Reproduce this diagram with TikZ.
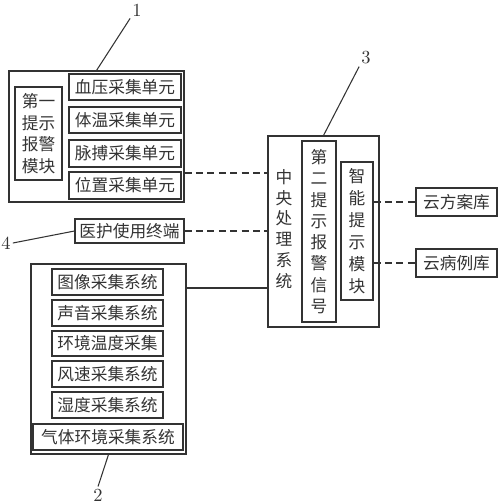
\documentclass[tikz,border=0pt]{standalone}
\usepackage{fontspec}
\usepackage{tikz}
\newfontfamily\cjk{Noto Sans CJK SC}
\tikzset{>=stealth}
\tikzset{
  box/.style={draw, rectangle, inner sep=0pt, align=center,
    font=\cjk\fontsize{9.5}{11.4}\selectfont},
  sz/.style 2 args={minimum width=#1*0.02cm, minimum height=#2*0.02cm},
  vskip/.style={font=\cjk\fontsize{9.5}{#1}\selectfont},
  tag/.style={inner sep=1pt, font=\fontsize{10.5}{12}\selectfont},
  link/.style={dash pattern=on 4pt off 2.5pt},
}

\begin{document}
\begin{tikzpicture}[x=0.02cm, y=-0.02cm, line width=0.6pt, color=black!80]
\useasboundingbox[fill=white] (0,0) rectangle (500,504);

% group 1
\node[box, sz={175}{131}] (grp1) at (96.5,136.5) {};
\node[box, sz={47}{93}, vskip=12.3pt] (alarm1) at (38.5,133.5) {第一\\提示\\报警\\模块};
\node[box, sz={112}{26}] (bp) at (125,87) {血压采集单元};
\node[box, sz={112}{26}] (temp) at (125,120) {体温采集单元};
\node[box, sz={112}{27}] (pulse) at (125,153.5) {脉搏采集单元};
\node[box, sz={112}{27}] (loc) at (125,185.5) {位置采集单元};

% terminal
\node[box, sz={109}{24}] (term) at (129.5,231) {医护使用终端};

% group 2
\node[box, sz={155}{190}] (grp2) at (108.5,359) {};
\node[box, sz={111}{26}] (img) at (107.5,282) {图像采集系统};
\node[box, sz={111}{26}] (snd) at (107.5,313) {声音采集系统};
\node[box, sz={111}{25}] (envt) at (107.5,343.5) {环境温度采集};
\node[box, sz={111}{26}] (wind) at (107.5,374) {风速采集系统};
\node[box, sz={111}{26}] (hum) at (107.5,405) {湿度采集系统};
\node[box, sz={150}{26}] (gas) at (108,437) {气体环境采集系统};

% central processing
\node[box, sz={111}{191}] (cpu) at (323.5,231.5) {};
\node[box, draw=none, vskip=11.9pt] (cputxt) at (284,229) {中\\央\\处\\理\\系\\统};
\node[box, sz={34}{181}, vskip=12.1pt] (sig) at (319,231.5) {第\\二\\提\\示\\报\\警\\信\\号};
\node[box, sz={32}{138}, vskip=12.5pt] (smart) at (357,231) {智\\能\\提\\示\\模\\块};

% cloud
\node[box, sz={81}{28}] (fang) at (456.5,202) {云方案库};
\node[box, sz={81}{28}] (case) at (456.5,263) {云病例库};

% links
\draw[link] (grp1.east |- 0,173) -- (cpu.west |- 0,173);
\draw[link] (term.east) -- (cpu.west |- term.east);
\draw (grp2.east |- 0,288) -- (cpu.west |- 0,288);
\draw[link] (smart.east |- fang.west) -- (fang.west);
\draw[link] (smart.east |- case.west) -- (case.west);

% reference numbers
\node[tag] (n1) at (137,10) {1};
\node[tag] (n2) at (98,495) {2};
\node[tag] (n3) at (366,58) {3};
\node[tag] (n4) at (6,243) {4};
\draw (grp1.north) -- (n1.south west);
\draw (grp2.south) -- (n2.north);
\draw (cpu.north) -- (n3.south west);
\draw (term.west) -- (n4.east);
\end{tikzpicture}
\end{document}
